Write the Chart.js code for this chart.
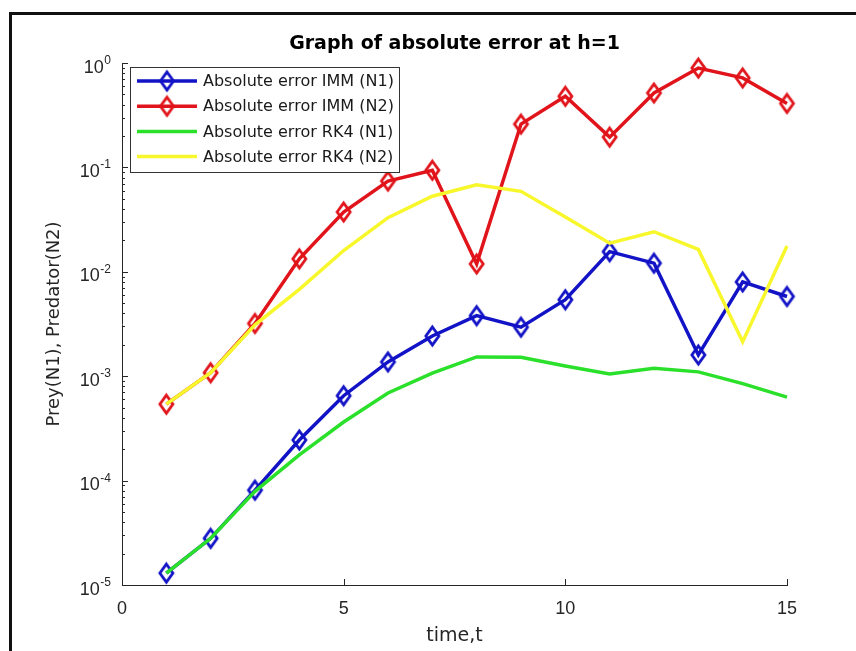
<!DOCTYPE html>
<html>
<head>
<meta charset="utf-8">
<script src="https://cdn.jsdelivr.net/npm/chart.js@4"></script>
<style>
  body { margin: 0; background: #fff; }
  #wrap { position: relative; width: 856px; height: 651px; overflow: hidden; }
  #frame { position: absolute; left: 9px; top: 12px; width: 900px; height: 700px;
           border-left: 3px solid #111; border-top: 3px solid #111; }
  canvas { position: absolute; left: 0; top: 0; }
</style>
</head>
<body>
<div id="wrap">
  <div id="frame"></div>
  <canvas id="chart" width="856" height="651"></canvas>
</div>
<script>
const TITLE = 'Graph of absolute error at h=1';
const X_LABEL = 'time,t';
const Y_LABEL = 'Prey(N1), Predator(N2)';

const TIME = [1, 2, 3, 4, 5, 6, 7, 8, 9, 10, 11, 12, 13, 14, 15];
const IMM_N1 = [1.3e-5, 2.8e-5, 8.1e-5, 2.45e-4, 6.5e-4, 1.37e-3, 2.43e-3, 3.8e-3, 2.95e-3, 5.4e-3, 0.0156, 0.0121, 1.6e-3, 8.0e-3, 5.8e-3];
const IMM_N2 = [5.4e-4, 1.08e-3, 3.2e-3, 0.0133, 0.0374, 0.074, 0.094, 0.0119, 0.26, 0.48, 0.195, 0.516, 0.895, 0.72, 0.41];
const RK4_N1 = [1.3e-5, 2.8e-5, 7.9e-5, 1.76e-4, 3.64e-4, 6.9e-4, 1.07e-3, 1.53e-3, 1.52e-3, 1.25e-3, 1.05e-3, 1.19e-3, 1.1e-3, 8.5e-4, 6.3e-4];
const RK4_N2 = [5.4e-4, 1.08e-3, 3.1e-3, 6.8e-3, 0.016, 0.033, 0.053, 0.068, 0.059, 0.0335, 0.0188, 0.0242, 0.0164, 2.14e-3, 0.0177];

const LABELS = ['Absolute error IMM (N1)', 'Absolute error IMM (N2)', 'Absolute error RK4 (N1)', 'Absolute error RK4 (N2)'];
const COLORS = ['#1212c6', '#e0141a', '#2ae02a', '#f7f72c'];
const X_TICKS = [0, 5, 10, 15];

const FONT = '"Liberation Sans", Arial, sans-serif';
const WIDE = '"DejaVu Sans", sans-serif';
const AXIS = '#262626';

// matlab style diamond, a bit taller than wide
function diamond(color, hw, hh, lw) {
  const c = document.createElement('canvas');
  c.width = Math.ceil(hw * 2 + lw * 2);
  c.height = Math.ceil(hh * 2 + lw * 2);
  const g = c.getContext('2d');
  const cx = c.width / 2, cy = c.height / 2;
  g.strokeStyle = color;
  g.lineWidth = lw;
  g.lineJoin = 'miter';
  g.beginPath();
  g.moveTo(cx, cy - hh);
  g.lineTo(cx + hw, cy);
  g.lineTo(cx, cy + hh);
  g.lineTo(cx - hw, cy);
  g.closePath();
  g.stroke();
  return c;
}

function toPoints(arr) {
  return TIME.map((t, i) => ({ x: t, y: arr[i] }));
}

function makeSet(i, arr, marker) {
  return {
    label: LABELS[i],
    data: toPoints(arr),
    borderColor: COLORS[i],
    borderWidth: 3.5,
    tension: 0,
    fill: false,
    clip: false,
    order: 4 - i,
    pointStyle: marker ? diamond(COLORS[i], 6.5, 9, 2.8) : false,
    pointRadius: marker ? 9 : 0,
    pointHoverRadius: marker ? 9 : 0,
  };
}

// inward ticks like matlab, plus y tick labels with superscript
const axesPlugin = {
  id: 'axesPlugin',
  beforeDatasetsDraw(chart) {
    const ctx = chart.ctx;
    const xs = chart.scales.x;
    const ys = chart.scales.y;
    const a = chart.chartArea;
    ctx.save();
    ctx.strokeStyle = AXIS;
    ctx.lineWidth = 1;
    X_TICKS.forEach((v) => {
      const px = Math.round(xs.getPixelForValue(v)) + 0.5;
      ctx.beginPath();
      ctx.moveTo(px, a.bottom);
      ctx.lineTo(px, a.bottom - 6);
      ctx.stroke();
    });
    for (let e = -5; e <= 0; e++) {
      for (let s = 1; s <= 9; s++) {
        const v = s * Math.pow(10, e);
        if (v > 1) break;
        const py = Math.round(ys.getPixelForValue(v)) + 0.5;
        ctx.beginPath();
        ctx.moveTo(a.left, py);
        ctx.lineTo(a.left + (s === 1 ? 6 : 3), py);
        ctx.stroke();
      }
    }
    ctx.restore();
  },
  afterDraw(chart) {
    const ctx = chart.ctx;
    const ys = chart.scales.y;
    const a = chart.chartArea;
    ctx.save();
    ctx.fillStyle = AXIS;
    ctx.textAlign = 'right';
    ctx.textBaseline = 'alphabetic';
    for (let e = 0; e >= -5; e--) {
      const py = ys.getPixelForValue(Math.pow(10, e));
      const exp = String(e);
      ctx.font = '12px ' + FONT;
      ctx.fillText(exp, a.left - 11, py + 1);
      const w = ctx.measureText(exp).width;
      ctx.font = '18px ' + FONT;
      ctx.fillText('10', a.left - 11 - w - 0.5, py + 9.5);
    }
    // title
    ctx.fillStyle = '#000';
    ctx.textAlign = 'center';
    ctx.textBaseline = 'middle';
    ctx.font = 'bold 19px ' + WIDE;
    ctx.fillText(TITLE, (a.left + a.right) / 2, 44);
    ctx.restore();
  },
};

const legendPlugin = {
  id: 'boxLegend',
  afterDatasetsDraw(chart) {
    const ctx = chart.ctx;
    const box = { x: 130, y: 67, w: 269, h: 105 };
    ctx.save();
    ctx.fillStyle = '#fff';
    ctx.fillRect(box.x, box.y, box.w, box.h);
    ctx.strokeStyle = '#333';
    ctx.lineWidth = 1;
    ctx.strokeRect(box.x + 0.5, box.y + 0.5, box.w, box.h);
    chart.data.datasets.forEach((ds, i) => {
      const y = 81 + i * 25.2;
      ctx.strokeStyle = ds.borderColor;
      ctx.lineWidth = 3.5;
      ctx.beginPath();
      ctx.moveTo(137, y);
      ctx.lineTo(197, y);
      ctx.stroke();
      if (ds.pointStyle) {
        const img = ds.pointStyle;
        ctx.drawImage(img, 167 - img.width / 2, y - img.height / 2);
      }
      ctx.fillStyle = '#1a1a1a';
      ctx.font = '16px ' + WIDE;
      ctx.textAlign = 'left';
      ctx.textBaseline = 'middle';
      ctx.fillText(ds.label, 203, y + 1);
    });
    ctx.restore();
  },
};

new Chart(document.getElementById('chart'), {
  type: 'line',
  data: {
    datasets: [
      makeSet(0, IMM_N1, true),
      makeSet(1, IMM_N2, true),
      makeSet(2, RK4_N1, false),
      makeSet(3, RK4_N2, false),
    ],
  },
  options: {
    responsive: false,
    animation: false,
    layout: { padding: { left: 0, right: 69, top: 63, bottom: 0 } },
    plugins: {
      legend: { display: false },
      title: { display: false },
      tooltip: { enabled: false },
    },
    scales: {
      x: {
        type: 'linear',
        min: 0,
        max: 15,
        afterFit: (s) => { s.height = 66; },
        afterBuildTicks: (s) => { s.ticks = X_TICKS.map((v) => ({ value: v })); },
        grid: { display: false, drawTicks: false },
        border: { display: true, color: AXIS, width: 1 },
        ticks: { color: AXIS, padding: 13, font: { family: FONT, size: 18 }, maxRotation: 0 },
        title: { display: true, text: X_LABEL, color: AXIS, padding: { top: 0, bottom: 4 }, font: { family: WIDE, size: 19 } },
      },
      y: {
        type: 'logarithmic',
        min: 1e-5,
        max: 1,
        afterFit: (s) => { s.width = 122; },
        grid: { display: false, drawTicks: false },
        border: { display: true, color: AXIS, width: 1 },
        ticks: { display: false },
        title: { display: true, text: Y_LABEL, color: AXIS, padding: { top: 44, bottom: 0 }, font: { family: WIDE, size: 18 } },
      },
    },
  },
  plugins: [axesPlugin, legendPlugin],
});
</script>
</body>
</html>
